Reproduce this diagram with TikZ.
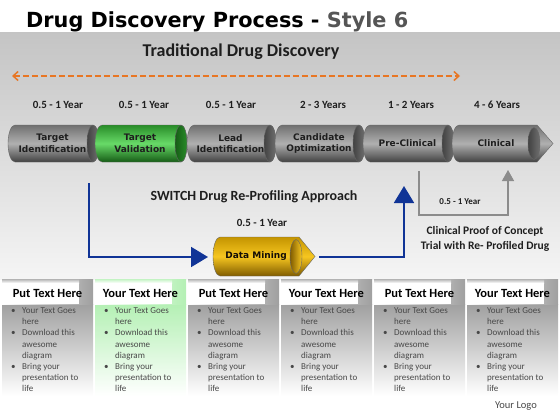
\documentclass[tikz,border=0pt]{standalone}
\usepackage{fontspec}
\setmainfont{Carlito}
\newfontfamily\tubefont{DejaVu Sans}
\usetikzlibrary{arrows.meta}

\definecolor{drugdark}{RGB}{30,30,30}
\definecolor{drugstyle}{RGB}{85,85,85}
\definecolor{drugorange}{RGB}{232,118,36}
\definecolor{drugblue}{RGB}{16,52,150}
\definecolor{druglinegray}{RGB}{140,140,140}
\definecolor{tubegrayA}{RGB}{112,112,112}
\definecolor{tubegrayB}{RGB}{176,176,176}
\definecolor{tubegrayC}{RGB}{66,66,66}
\definecolor{tubegreenA}{RGB}{40,140,40}
\definecolor{tubegreenB}{RGB}{104,218,104}
\definecolor{tubegreenC}{RGB}{22,92,22}
\definecolor{tubegoldA}{RGB}{196,148,0}
\definecolor{tubegoldB}{RGB}{246,198,32}
\definecolor{tubegoldC}{RGB}{128,92,0}
\definecolor{colgray}{RGB}{160,160,160}
\definecolor{colgreen}{RGB}{180,240,180}
\definecolor{bodygray}{RGB}{72,72,72}

\newcommand{\bulletlist}{%
\makebox[11pt][l]{\textbullet}Your Text Goes\\
\hspace*{11pt}here\\
\makebox[11pt][l]{\textbullet}Download this\\
\hspace*{11pt}awesome\\
\hspace*{11pt}diagram\\
\makebox[11pt][l]{\textbullet}Bring your\\
\hspace*{11pt}presentation to\\
\hspace*{11pt}life}

\begin{document}
\begin{tikzpicture}[x=1pt, y=-1pt,
    titletext/.style={font=\tubefont\bfseries\fontsize{20.8}{25}\selectfont, inner sep=0pt, anchor=base west},
    bigtext/.style={font=\bfseries\fontsize{18}{21}\selectfont, text=drugdark, inner sep=0pt},
    yeartext/.style={font=\bfseries\fontsize{11}{13}\selectfont, text=drugdark, inner sep=0pt},
    tubetext/.style={font=\tubefont\bfseries\fontsize{9}{11.5}\selectfont, align=center, text=drugdark, inner sep=0pt},
    notetext/.style={font=\bfseries\fontsize{11.5}{14.5}\selectfont, align=center, text=drugdark, inner sep=0pt},
    colhead/.style={font=\bfseries\fontsize{12.5}{15}\selectfont, text=black, inner sep=0pt},
    bullettext/.style={font=\fontsize{9}{11.2}\selectfont, text=bodygray, align=left, inner sep=0pt, anchor=north west},
    graytube/.style={top color=tubegrayA, bottom color=tubegrayC, middle color=tubegrayB, draw=black!60, line width=0.4pt},
    greentube/.style={top color=tubegreenA, bottom color=tubegreenC, middle color=tubegreenB, draw=black!60, line width=0.4pt},
    goldtube/.style={top color=tubegoldA, bottom color=tubegoldC, middle color=tubegoldB, draw=black!60, line width=0.4pt},
    graycap/.style={left color=tubegrayC, right color=tubegrayA, draw=black!60, line width=0.4pt},
    greencap/.style={left color=tubegreenC, right color=tubegreenA, draw=black!60, line width=0.4pt},
    goldcap/.style={left color=tubegoldC, right color=tubegoldB, draw=black!60, line width=0.4pt},
    orangedash/.style={draw=drugorange, line width=1.5pt, dash pattern=on 6pt off 3pt,
        {Straight Barb[length=5pt,width=9pt]}-{Straight Barb[length=5pt,width=9pt]}},
    bluearrow/.style={draw=drugblue, line width=1.8pt, -{Triangle[length=17pt,width=20pt]}},
    grayarrow/.style={draw=druglinegray, line width=1.3pt, -{Triangle[length=11pt,width=12pt]}}]
    \useasboundingbox (0,0) rectangle (560,420);

    % Background band
    \shade[top color=black!23, bottom color=black!4] (0,33) rectangle (560,279);

    % Title
    \node[titletext] (title) at (26,28) {Drug Discovery Process - \textcolor{drugstyle}{Style 6}};

    % Traditional path
    \node[bigtext] (trad) at (241,52) {Traditional Drug Discovery};
    \coordinate (tradL) at (12,76);
    \coordinate (tradR) at (460,76);
    \draw[orangedash] (tradL) -- (tradR);

    % Year labels
    \foreach \x/\t/\nm in {58/0.5 - 1 Year/yra, 144/0.5 - 1 Year/yrb, 231/0.5 - 1 Year/yrc,
                           323/2 - 3 Years/yrd, 411/1 - 2 Years/yre, 497/4 - 6 Years/yrf} {
        \node[yeartext] (\nm) at (\x,105) {\t};
    }

    % Pipeline tubes
    \foreach \l/\r/\sty/\cp/\nm/\txt in {8/93/graytube/graycap/tid/Target\\Identification,
                                        95/181/greentube/greencap/tval/Target\\Validation,
                                        187/270/graytube/graycap/lid/Lead\\Identification,
                                        275/359/graytube/graycap/copt/Candidate\\Optimization,
                                        363/448/graytube/graycap/prec/Pre-Clinical} {
        \path[\sty] (\l+7,125) -- (\r,125) arc[start angle=-90, end angle=90, x radius=6, y radius=18.5]
            -- (\l+7,162) arc[start angle=90, end angle=270, x radius=7, y radius=18.5] -- cycle;
        \path[\cp] (\r,143.5) ellipse [x radius=6, y radius=18.5];
        \node[tubetext] (\nm) at ({(\l+\r)/2+2},143.5) {\txt};
    }

    % Last tube with arrow point
    \path[graytube] (459,125) -- (537,125) -- (553,143.5) -- (537,162) -- (459,162)
        arc[start angle=90, end angle=270, x radius=7, y radius=18.5] -- cycle;
    \path[graycap] (534,143.5) ellipse [x radius=6, y radius=16];
    \node[tubetext] (clin) at (496,143.5) {Clinical};

    % Re-profiling path
    \node[notetext, font=\bfseries\fontsize{14}{16}\selectfont] (switch) at (254,197) {SWITCH Drug Re-Profiling Approach};
    \node[yeartext] (yrdm) at (262,223) {0.5 - 1 Year};

    \path[goldtube] (220,237) -- (299,237) -- (315,256.5) -- (299,276) -- (220,276)
        arc[start angle=90, end angle=270, x radius=7, y radius=19.5] -- cycle;
    \path[goldcap] (296,256.5) ellipse [x radius=6, y radius=17];
    \node[tubetext, text=black!90!brown] (dm) at (256,256.5) {Data Mining};

    \coordinate (swA) at (89,183);
    \coordinate (dmin) at (208,257);
    \coordinate (dmout) at (319,257);
    \coordinate (pcin) at (404,186);
    \draw[bluearrow] (swA) |- (dmin);
    \draw[bluearrow] (dmout) -| (pcin);

    % Clinical proof of concept
    \coordinate (cpA) at (419,171);
    \coordinate (cpC) at (508,215);
    \coordinate (cpB) at (508,170);
    \draw[grayarrow] (cpA) |- (cpC) -- (cpB);
    \node[yeartext, font=\bfseries\fontsize{9}{11}\selectfont] (yrcp) at (460,202) {0.5 - 1 Year};
    \node[notetext] (cpoc) at (485,239) {Clinical Proof of Concept\\Trial with Re- Profiled Drug};

    % Text columns
    \foreach \i/\hd/\bc in {0/Put/colgray, 1/Your/colgreen, 2/Put/colgray,
                            3/Your/colgray, 4/Put/colgray, 5/Your/colgray} {
        \pgfmathsetmacro{\cx}{2+93*\i}
        \shade[top color=\bc, bottom color=white] (\cx,304) rectangle ++(91,92);
        \shade[left color=white, right color=\bc] (\cx,279) rectangle ++(91,25);
        \fill[white] (\cx,283) rectangle ++(77,21);
        \shade[top color=\bc!80, bottom color=white] (\cx,279) rectangle ++(77,4);
        \node[colhead] (hd\i) at (\cx+45.5,293) {\hd{} Text Here};
        \node[bullettext] (bl\i) at (\cx+9,307.5) {\bulletlist};
    }

    % Logo
    \node[font=\fontsize{10.5}{12}\selectfont, text=bodygray, inner sep=0pt] (logo) at (516,406) {Your Logo};
\end{tikzpicture}
\end{document}
